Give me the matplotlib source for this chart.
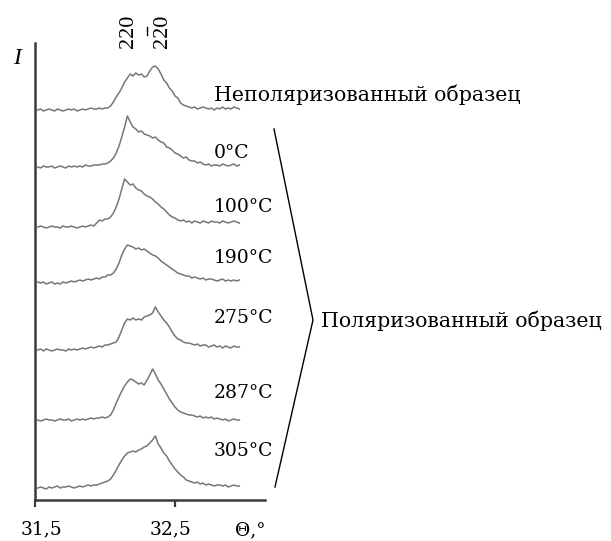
import numpy as np
import matplotlib
matplotlib.use("Agg")
import matplotlib.pyplot as plt
from matplotlib.lines import Line2D
from matplotlib.transforms import ScaledTranslation

# ---- data ----
theta = np.round(np.arange(31.52, 32.9601, 0.02), 3)  # 73 points

unpolarized = [0,1,-1,0,1,0,-1,1,0,-1,0,1,0,1,-1,0,1,0,1,2,1,
               1,2,1,2,2,4,8,13,17,22,28,32,36,34,37,35,36,33,34,39,43,44,41,36,30,27,22,19,14,12,7,5,4,3,
               2,3,1,2,3,2,1,2,0,2,1,3,1,2,1,3,2,1]
t0 = [0,-1,1,0,0,1,-1,0,1,0,-1,1,0,1,0,1,0,2,1,1,2,
      2,2,3,3,4,6,9,14,21,30,40,51,45,40,38,35,36,33,32,31,29,30,27,25,24,20,19,17,14,13,11,9,10,7,6,6,4,5,3,
      2,3,1,2,2,1,3,2,1,2,3,1,2]
t100 = [0,1,0,-1,0,1,0,0,-1,1,0,0,1,0,-1,0,1,0,1,2,1,
        4,7,6,8,8,10,14,20,28,38,48,45,42,43,39,37,36,33,31,30,28,25,23,20,18,15,12,10,9,7,6,
        7,5,6,4,6,5,4,6,5,4,6,5,5,4,6,5,4,5,6,5,4]
t190 = [0,-1,0,-2,-1,0,-2,-1,-2,0,-1,0,1,0,1,2,1,2,3,2,3,
        4,3,5,5,7,7,9,13,19,27,33,37,36,35,33,34,32,33,31,29,27,26,24,21,19,17,15,13,11,9,8,7,6,6,4,
        5,4,3,4,2,3,3,2,1,2,3,1,2,1,2,1,2]
t275 = [0,1,-1,1,0,-1,0,1,0,0,-1,1,0,1,0,1,2,1,2,3,2,
        3,4,3,5,5,6,7,8,13,20,27,31,30,32,30,31,30,33,34,35,37,43,38,34,30,27,23,18,14,11,10,8,7,7,
        6,5,6,4,5,5,3,4,5,3,4,2,4,3,2,4,3,3]
t287 = [0,-1,0,1,0,0,-1,0,1,0,0,1,-1,0,1,0,1,0,1,2,1,
        2,2,3,2,3,5,10,17,23,29,34,38,41,40,38,36,37,35,40,45,51,46,40,36,31,26,21,17,13,10,8,7,6,5,
        5,4,3,4,2,3,2,3,1,2,1,0,1,-1,0,1,0,0]
t305 = [0,1,0,-1,1,0,1,2,0,1,1,2,1,0,1,2,1,2,3,2,3,
        3,4,5,6,7,9,13,18,23,28,32,35,36,37,36,38,39,41,42,45,48,52,44,40,35,32,27,23,19,16,13,11,8,7,
        6,5,6,4,5,3,4,3,2,3,3,2,3,1,2,3,2,2]

series = [unpolarized, t0, t100, t190, t275, t287, t305]
offsets = [390, 333, 273, 218, 150, 80, 12]
labels = ["Неполяризованный образец", "0°C", "100°C", "190°C", "275°C", "287°C", "305°C"]
label_ypx = [95, 153, 207, 258, 318, 393, 451]
xtick_vals = [31.5, 32.5]
xtick_labels = ["31,5", "32,5"]

# ---- figure ----
W, H = 611, 541
fig = plt.figure(figsize=(W/100, H/100), dpi=100)
plt.rcParams['font.family'] = ['DejaVu Serif', 'Liberation Serif']
FS = 13.5
FS_CYR = 14.8
ROT_FONT = ['Liberation Serif', 'DejaVu Serif']

ax_l, ax_r, ax_t, ax_b = 35, 265, 43, 500
ax = fig.add_axes([ax_l/W, 1-ax_b/H, (ax_r-ax_l)/W, (ax_b-ax_t)/H])
ax.set_xlim(31.5, 31.5 + (ax_r-ax_l)/140)
ax.set_ylim(0, ax_b-ax_t)
for s in ['top', 'right']:
    ax.spines[s].set_visible(False)
for s in ['left', 'bottom']:
    ax.spines[s].set_linewidth(1.8)
    ax.spines[s].set_color('#3a3a3a')
ax.set_yticks([])
ax.set_xticks(xtick_vals, xtick_labels)
ax.tick_params(axis='x', direction='out', length=5, width=1.6, color='#3a3a3a',
               pad=10, labelsize=FS)
shifts_px = [6, -4]
for lbl, dx in zip(ax.get_xticklabels(), shifts_px):
    lbl.set_transform(lbl.get_transform() + ScaledTranslation(dx/100, 0, fig.dpi_scale_trans))
ax.patch.set_alpha(0)

for vals, off in zip(series, offsets):
    ax.plot(theta, np.array(vals) + off, color='#767676', lw=1.1)

def ftext(xp, yp, s, **kw):
    kw.setdefault('fontsize', FS)
    fig.text(xp/W, 1-yp/H, s, **kw)

for lab, yp in zip(labels, label_ypx):
    fs = FS_CYR if lab[0].isalpha() else FS
    ftext(214, yp, lab, ha='left', va='center', fontsize=fs)

ftext(321, 321, "Поляризованный образец", ha='left', va='center', fontsize=FS_CYR)
ftext(250, 530, "Θ,°", ha='center', va='center')
ftext(17, 58, "I", ha='center', va='center', style='italic', family=ROT_FONT, fontsize=17)
ftext(128, 31, "220", ha='center', va='center', rotation=90, family=ROT_FONT, fontsize=16)
ftext(163, 31, "220", ha='center', va='center', rotation=90, family=ROT_FONT, fontsize=16)
fig.add_artist(Line2D([147/W, 147/W], [1-27/H, 1-35/H], color='black', lw=1.0,
                      transform=fig.transFigure))

# bracket
bx = [274, 313, 275]
by = [129, 320, 487]
fig.add_artist(Line2D([x/W for x in bx], [1-y/H for y in by], color='black', lw=1.0,
                      transform=fig.transFigure))

fig.savefig("out.png", dpi=100)
